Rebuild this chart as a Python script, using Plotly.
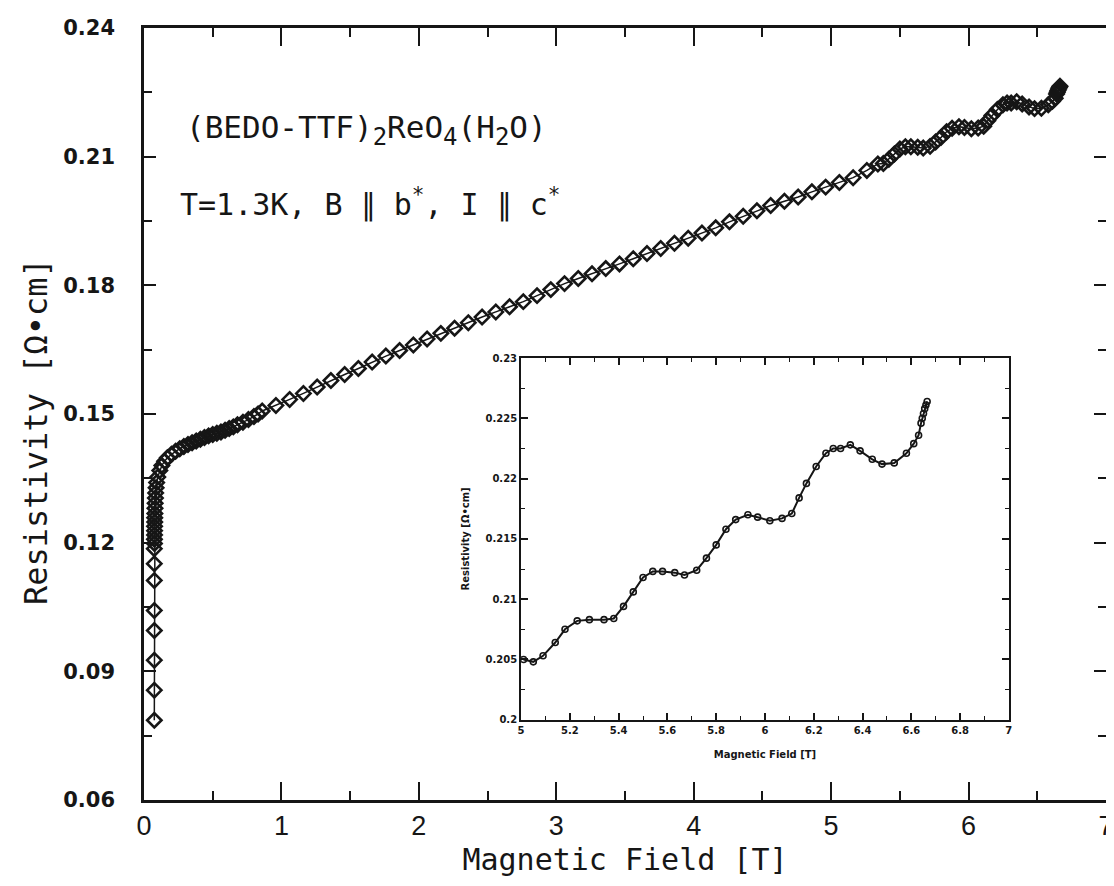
import plotly.graph_objects as go

# ---------------- data ----------------
# low-field column + knee (main panel)
field_low = [0.075, 0.075, 0.075, 0.075, 0.075, 0.075, 0.075, 0.075,
             0.076, 0.076, 0.077, 0.077, 0.077, 0.078, 0.078, 0.079, 0.080, 0.081,
             0.083, 0.085, 0.088, 0.092, 0.10, 0.115, 0.13, 0.15, 0.17, 0.20, 0.23,
             0.26, 0.29, 0.32, 0.35, 0.38, 0.41, 0.44, 0.47, 0.50, 0.53, 0.56, 0.59,
             0.62, 0.65, 0.68, 0.72, 0.76, 0.80, 0.83]
rho_low = [0.0786, 0.0856, 0.0926, 0.0995, 0.1042, 0.1112, 0.1151, 0.1186,
           0.1198, 0.1208, 0.1218, 0.1228, 0.1238, 0.1248, 0.1258, 0.1268, 0.1280, 0.1292,
           0.1304, 0.1316, 0.1328, 0.1340, 0.1353, 0.1368, 0.1380, 0.1390, 0.1398, 0.1406, 0.1413,
           0.1419, 0.1424, 0.1429, 0.1433, 0.1437, 0.1441, 0.1445, 0.1449, 0.1452, 0.1455, 0.1458, 0.1462,
           0.1466, 0.1470, 0.1475, 0.1481, 0.1487, 0.1494, 0.1500]

# nearly linear region (main panel)
field_lin = [0.86, 0.96, 1.06, 1.16, 1.26, 1.36, 1.46, 1.56, 1.66, 1.76, 1.86, 1.96,
             2.06, 2.16, 2.26, 2.36, 2.46, 2.56, 2.66, 2.76, 2.86, 2.96, 3.06, 3.16,
             3.26, 3.36, 3.46, 3.56, 3.66, 3.76, 3.86, 3.96, 4.06, 4.16, 4.26, 4.36,
             4.46, 4.56, 4.66, 4.76, 4.86, 4.96, 5.06, 5.16, 5.26]
rho_lin = [0.1507, 0.1520, 0.1534, 0.1548, 0.1563, 0.1578, 0.1592, 0.1606, 0.1621, 0.1635, 0.1648, 0.1661,
           0.1675, 0.1688, 0.1700, 0.1713, 0.1726, 0.1738, 0.1750, 0.1762, 0.1776, 0.1790, 0.1804, 0.1816,
           0.1827, 0.1839, 0.1850, 0.1862, 0.1874, 0.1886, 0.1898, 0.1910, 0.1922, 0.1934, 0.1948, 0.1961,
           0.1974, 0.1986, 0.1996, 0.2006, 0.2018, 0.2029, 0.2040, 0.2051, 0.2068]

# oscillating high-field region (inset, also in main panel above 5.3 T)
field_osc = [5.01, 5.05, 5.09, 5.14, 5.18, 5.23, 5.28, 5.34, 5.38, 5.42, 5.46, 5.50,
             5.54, 5.58, 5.63, 5.67, 5.72, 5.76, 5.80, 5.84, 5.88, 5.93, 5.97, 6.02,
             6.07, 6.11, 6.14, 6.17, 6.21, 6.25, 6.28, 6.31, 6.35, 6.39, 6.44, 6.48,
             6.53, 6.58, 6.61, 6.63, 6.64, 6.645, 6.65, 6.655, 6.66, 6.665]
rho_osc = [0.2050, 0.2048, 0.2053, 0.2064, 0.2075, 0.2082, 0.2083, 0.2083, 0.2084, 0.2094, 0.2106, 0.2118,
           0.2123, 0.2123, 0.2122, 0.2120, 0.2124, 0.2134, 0.2145, 0.2158, 0.2166, 0.2170, 0.2168, 0.2165,
           0.2167, 0.2171, 0.2184, 0.2196, 0.2210, 0.2221, 0.2225, 0.2225, 0.2228, 0.2223, 0.2216, 0.2212,
           0.2213, 0.2221, 0.2229, 0.2236, 0.2246, 0.2250, 0.2254, 0.2258, 0.2261, 0.2264]

main_xticks = [0, 1, 2, 3, 4, 5, 6, 7]
main_yticks = [0.06, 0.09, 0.12, 0.15, 0.18, 0.21, 0.24]
inset_xticks = [5, 5.2, 5.4, 5.6, 5.8, 6, 6.2, 6.4, 6.6, 6.8, 7]
inset_yticks = [0.2, 0.205, 0.21, 0.215, 0.22, 0.225, 0.23]
inset_ytext = ["0.2", "0.205", "0.21", "0.215", "0.22", "0.225", "0.23"]

# ---------------- figure ----------------
main_x = field_low + field_lin + [f for f in field_osc if f > 5.3]
main_y = rho_low + rho_lin + [r for f, r in zip(field_osc, rho_osc) if f > 5.3]

INK = "#161616"
MONO = "DejaVu Sans Mono"
fig = go.Figure()
fig.add_trace(go.Scatter(
    x=main_x, y=main_y, mode="lines+markers",
    line=dict(color=INK, width=1.5),
    marker=dict(symbol="diamond-open", size=11, color=INK, line=dict(width=2.6, color=INK)),
    xaxis="x", yaxis="y", showlegend=False))

fig.add_trace(go.Scatter(
    x=field_osc, y=rho_osc, mode="lines+markers",
    line=dict(color=INK, width=2),
    marker=dict(symbol="circle-open", size=6, color=INK, line=dict(width=1.6, color=INK)),
    xaxis="x2", yaxis="y2", showlegend=False))

axis_common = dict(showline=True, linecolor=INK, mirror="ticks", ticks="inside",
                   tickcolor=INK, showgrid=False, zeroline=False)

fig.update_layout(
    width=1114, height=886,
    margin=dict(l=136, r=8, t=20, b=94),
    paper_bgcolor="white", plot_bgcolor="white",
    font=dict(family="DejaVu Sans", color=INK),
    xaxis=dict(**axis_common, range=[0, 7], tickvals=main_xticks, linewidth=2.5,
               ticklen=18, tickwidth=2,
               minor=dict(ticks="inside", ticklen=9, tickwidth=2, dtick=0.5, tickcolor=INK),
               tickfont=dict(size=27, family="Liberation Sans"),
               title=dict(text="Magnetic Field [T]", font=dict(size=30, family=MONO), standoff=9)),
    yaxis=dict(**axis_common, range=[0.06, 0.24], tickvals=main_yticks, linewidth=2.5,
               ticklen=12, tickwidth=2, tickformat=".2f", ticklabelstandoff=22,
               minor=dict(ticks="inside", ticklen=8, tickwidth=2, dtick=0.015, tickcolor=INK),
               tickfont=dict(size=21, family="DejaVu Sans", weight="bold")),
    xaxis2=dict(**axis_common, domain=[0.392, 0.899], anchor="y2", range=[5, 7],
                tickvals=inset_xticks, linewidth=2, ticklen=7, tickwidth=1.5,
                minor=dict(ticks="inside", ticklen=4, tickwidth=1.2, dtick=0.1, tickcolor=INK),
                tickfont=dict(size=10, family="DejaVu Sans", weight="bold"),
                title=dict(text="Magnetic Field [T]", font=dict(size=10, weight="bold"), standoff=16)),
    yaxis2=dict(**axis_common, domain=[0.104, 0.5725], anchor="x2", range=[0.2, 0.23],
                tickvals=inset_yticks, ticktext=inset_ytext, linewidth=2, ticklen=7, tickwidth=1.5,
                minor=dict(ticks="inside", ticklen=4, tickwidth=1.2, dtick=0.0025, tickcolor=INK),
                tickfont=dict(size=10, family="DejaVu Sans", weight="bold"),
                title=dict(text="Resistivity [Ω•cm]", font=dict(size=10, weight="bold"), standoff=14)),
)

# main y-axis title as a rotated annotation (lets it sit where the original does)
fig.add_annotation(xref="paper", yref="paper", x=-0.112, y=0.477, xanchor="center", yanchor="middle",
                   textangle=-90, text="Resistivity [Ω•cm]", showarrow=False,
                   font=dict(size=32, family=MONO, color=INK))

SUB = '<sub><span style="font-size:24px">{}</span></sub>'
fig.add_annotation(xref="x", yref="y", x=0.29, y=0.2163, xanchor="left", yanchor="middle",
                   text="(BEDO-TTF)" + SUB.format("2") + "ReO" + SUB.format("4") + "(H" + SUB.format("2") + "O)",
                   showarrow=False, font=dict(size=31, family=MONO, color=INK))
fig.add_annotation(xref="x", yref="y", x=0.245, y=0.1992, xanchor="left", yanchor="middle",
                   text="T=1.3K, B ∥ b<sup>*</sup>, I ∥ c<sup>*</sup>", showarrow=False,
                   font=dict(size=30, family=MONO, color=INK))

fig.write_html("out.html")
